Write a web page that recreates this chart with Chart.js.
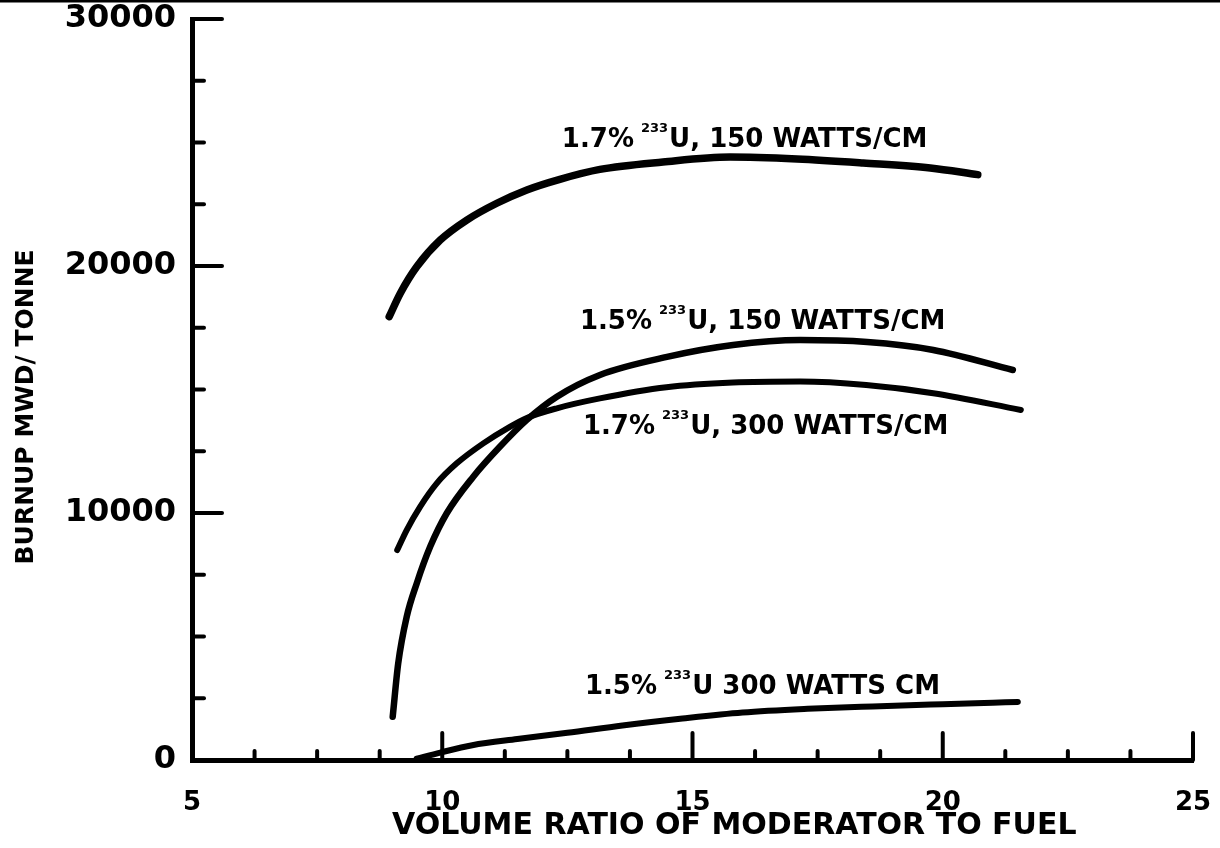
<!DOCTYPE html>
<html><head><meta charset="utf-8">
<script src="https://cdn.jsdelivr.net/npm/chart.js@4.4.1/dist/chart.umd.min.js"></script>
<style>html,body{margin:0;padding:0;background:#fff}#wrap{width:1220px;height:848px}</style>
</head><body><div id="wrap"><canvas id="c" width="1220" height="848"></canvas></div>
<script>
// ---- data ----
const xTickLabels = [5, 10, 15, 20, 25];
const yTickLabels = [0, 10000, 20000, 30000];
const xMajorTicks = [10, 15, 20, 25];
const xMinorTicks = [6.25, 7.5, 8.75, 11.25, 12.5, 13.75, 16.25, 17.5, 18.75, 21.25, 22.5, 23.75];
const yMajorTicks = [10000, 20000, 30000];
const yMinorTicks = [2500, 5000, 7500, 12500, 15000, 17500, 22500, 25000, 27500];

// 1.7% 233U, 150 W/cm
const s17_150_x = [8.94, 9.16, 9.49, 9.96, 10.49, 11.09, 11.69, 12.35, 13.15, 14.41, 15.75, 17.09, 18.41, 19.75, 20.70];
const s17_150_y = [17950, 18890, 19970, 21050, 21860, 22540, 23080, 23510, 23910, 24210, 24410, 24330, 24170, 23970, 23700];
// 1.5% 233U, 150 W/cm
const s15_150_x = [9.01, 9.12, 9.29, 9.49, 9.76, 10.09, 10.62, 11.15, 11.69, 12.29, 13.15, 14.49, 15.81, 17.15, 18.49, 19.81, 21.40];
const s15_150_y = [1750, 3910, 5800, 7150, 8640, 9990, 11470, 12680, 13770, 14710, 15590, 16320, 16800, 17000, 16920, 16600, 15790];
// 1.7% 233U, 300 W/cm
const s17_300_x = [9.10, 9.29, 9.56, 9.89, 10.29, 10.82, 11.35, 11.69, 12.29, 13.15, 14.48, 15.81, 17.15, 18.47, 19.81, 21.56];
const s17_300_y = [8500, 9310, 10260, 11200, 12010, 12820, 13490, 13850, 14240, 14640, 15090, 15280, 15320, 15180, 14850, 14170];
// 1.5% 233U, 300 W/cm
const s15_300_x = [9.49, 9.96, 10.6, 11.5, 12.5, 13.6, 14.8, 16.0, 17.3, 18.6, 20.0, 21.0, 21.5];
const s15_300_y = [50, 300, 600, 850, 1100, 1400, 1680, 1920, 2070, 2170, 2260, 2320, 2350];

// curve labels
const labelPre  = ['1.7%', '1.5%', '1.7%', '1.5%'];
const labelSup  = ['233', '233', '233', '233'];
const labelPost = ['U, 150 WATTS/CM', 'U, 150 WATTS/CM', 'U, 300 WATTS/CM', 'U 300 WATTS CM'];
const labelX = [12.39, 12.75, 12.81, 12.85];
const labelY = [25100, 17730, 13480, 2960];

const FONT = '"DejaVu Sans", "Liberation Sans", sans-serif';
const pts = (xs, ys) => xs.map((v, i) => ({x: v, y: ys[i]}));
const ds = (xs, ys, w) => ({
  data: pts(xs, ys), borderColor: '#000', borderWidth: w, borderCapStyle: 'round',
  borderJoinStyle: 'round', pointRadius: 0, fill: false, cubicInterpolationMode: 'monotone', clip: 12
});

const bgPlugin = {
  id: 'bg',
  beforeDraw(chart) {
    const c = chart.ctx;
    c.save();
    c.fillStyle = '#fff'; c.fillRect(0, 0, chart.width, chart.height);
    c.strokeStyle = '#000'; c.lineWidth = 3;
    c.beginPath(); c.moveTo(0, 1); c.lineTo(chart.width, 1); c.stroke();
    c.restore();
  }
};

const tickPlugin = {
  id: 'inTicks',
  afterDraw(chart) {
    const c = chart.ctx, xs = chart.scales.x, ys = chart.scales.y;
    const x0 = xs.getPixelForValue(5), y0 = ys.getPixelForValue(0);
    c.save();
    c.strokeStyle = '#000'; c.lineCap = 'round'; c.lineWidth = 4;
    const vx = (v, len) => { const p = xs.getPixelForValue(v); c.beginPath(); c.moveTo(p, y0); c.lineTo(p, y0 - len); c.stroke(); };
    const hy = (v, len) => { const p = ys.getPixelForValue(v); c.beginPath(); c.moveTo(x0, p); c.lineTo(x0 + len, p); c.stroke(); };
    xMinorTicks.forEach(v => vx(v, 9));
    xMajorTicks.forEach(v => vx(v, 27));
    yMinorTicks.forEach(v => hy(v, 12));
    yMajorTicks.forEach(v => hy(v, 30));
    c.restore();
  }
};

const labelPlugin = {
  id: 'curveLabels',
  afterDatasetsDraw(chart) {
    const c = chart.ctx, xs = chart.scales.x, ys = chart.scales.y;
    c.save();
    c.fillStyle = '#000'; c.textBaseline = 'middle'; c.textAlign = 'left';
    for (let i = 0; i < labelPre.length; i++) {
      let px = xs.getPixelForValue(labelX[i]);
      const py = ys.getPixelForValue(labelY[i]);
      c.font = 'bold 26px ' + FONT;
      c.fillText(labelPre[i], px, py);
      px += c.measureText(labelPre[i]).width + 7;
      c.font = 'bold 13px ' + FONT;
      c.fillText(labelSup[i], px, py - 11);
      px += c.measureText(labelSup[i]).width + 1;
      c.font = 'bold 26px ' + FONT;
      c.fillText(labelPost[i], px, py);
    }
    c.restore();
  }
};

new Chart(document.getElementById('c'), {
  type: 'line',
  data: { datasets: [
    ds(s17_150_x, s17_150_y, 7.5),
    ds(s15_150_x, s15_150_y, 6.5),
    ds(s17_300_x, s17_300_y, 6),
    ds(s15_300_x, s15_300_y, 6)
  ]},
  options: {
    responsive: false, animation: false, devicePixelRatio: 1,
    layout: { padding: { top: 19, right: 27, left: 0, bottom: 0 } },
    plugins: { legend: { display: false }, tooltip: { enabled: false } },
    scales: {
      x: {
        type: 'linear', min: 5, max: 25,
        afterBuildTicks: s => { s.ticks = xTickLabels.map(v => ({ value: v })); },
        afterFit: s => { s.height = 88; s.paddingLeft = 0; s.paddingRight = 0; },
        grid: { display: false, drawTicks: false },
        border: { display: true, color: '#000', width: 5 },
        ticks: { padding: 28, color: '#000', maxRotation: 0, font: { family: FONT, weight: 'bold', size: 26 } },
        title: { display: true, text: '        VOLUME RATIO OF MODERATOR TO FUEL', color: '#000',
                 font: { family: FONT, weight: 'bold', size: 30 }, padding: { top: 0, bottom: 4 } }
      },
      y: {
        type: 'linear', min: 0, max: 30000,
        afterBuildTicks: s => { s.ticks = yTickLabels.map(v => ({ value: v })); },
        afterFit: s => { s.width = 192; s.paddingTop = 0; s.paddingBottom = 0; },
        grid: { display: false, drawTicks: false },
        border: { display: true, color: '#000', width: 5 },
        ticks: { padding: 16, color: '#000', font: { family: FONT, weight: 'bold', size: 32 }, callback: v => String(v) },
        title: { display: true, text: 'BURNUP MWD/ TONNE    ', color: '#000',
                 font: { family: FONT, weight: 'bold', size: 25 }, padding: { top: 11, bottom: 0 } }
      }
    }
  },
  plugins: [bgPlugin, tickPlugin, labelPlugin]
});
</script>
</body></html>
